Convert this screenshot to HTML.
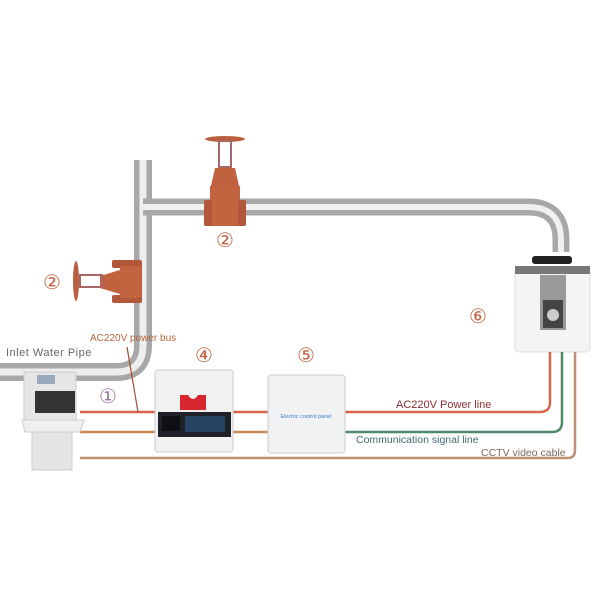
<!DOCTYPE html>
<html><head><style>body{margin:0;background:#fff}svg{display:block}text{font-family:"Liberation Sans",sans-serif}</style></head><body>
<svg width="600" height="600" viewBox="0 0 600 600" xmlns="http://www.w3.org/2000/svg">
<!-- pipes -->
<path d="M143 160 V345 Q143 372 116 372 H0" fill="none" stroke="#a8a8a8" stroke-width="18"/>
<path d="M143 160 V345 Q143 372 116 372 H0" fill="none" stroke="#eeeeee" stroke-width="7"/>
<path d="M143 207 H528 Q561 207 561 240 V252" fill="none" stroke="#a8a8a8" stroke-width="17"/>
<path d="M143 207 H528 Q561 207 561 240 V252" fill="none" stroke="#f0f0f0" stroke-width="6"/>
<!-- top valve -->
<ellipse cx="225" cy="139" rx="20" ry="3" fill="#b8603f"/>
<rect x="219" y="141" width="12" height="26" fill="none" stroke="#a66" stroke-width="2"/>
<path d="M215 168 h20 l4 18 h-28z" fill="#c0623e"/>
<rect x="210" y="186" width="30" height="40" fill="#c2643f"/>
<rect x="204" y="200" width="8" height="26" rx="2" fill="#b2573a"/>
<rect x="238" y="200" width="8" height="26" rx="2" fill="#b2573a"/>
<!-- left valve -->
<rect x="112" y="260" width="30" height="8" rx="2" fill="#b2573a"/>
<rect x="112" y="295" width="30" height="8" rx="2" fill="#b2573a"/>
<rect x="120" y="266" width="22" height="32" fill="#c2643f"/>
<path d="M120 270 L100 276 V288 L120 294z" fill="#c0623e"/>
<rect x="80" y="275" width="22" height="12" fill="none" stroke="#a66" stroke-width="2"/>
<ellipse cx="76" cy="281" rx="3" ry="20" fill="#b8603f"/>
<text x="225" y="247" font-size="20" fill="#c0623e" text-anchor="middle">②</text>
<text x="52" y="289" font-size="20" fill="#c0623e" text-anchor="middle">②</text>
<!-- camera -->
<rect x="532" y="256" width="40" height="8" rx="3" fill="#222"/>
<rect x="515" y="270" width="75" height="82" rx="4" fill="#f4f4f4" stroke="#ddd"/>
<rect x="515" y="266" width="75" height="8" fill="#777"/>
<rect x="540" y="275" width="26" height="55" fill="#999"/>
<rect x="543" y="300" width="20" height="28" fill="#444"/>
<circle cx="553" cy="315" r="6" fill="#ccc"/>
<text x="478" y="323" font-size="20" fill="#c0623e" text-anchor="middle">⑥</text>
<!-- lines -->
<g fill="none" stroke-width="2.5">
<path d="M80 412 H540 Q550 412 550 402 V352" stroke="#d8644a"/>
<path d="M80 432 H268" stroke="#c98a5a"/>
<path d="M345 432 H552 Q562 432 562 422 V352" stroke="#4f8a6a"/>
<path d="M80 458 H568 Q575 458 575 450 V352" stroke="#c09075"/>
<path d="M127 347 L138 412" stroke="#a0502e" stroke-width="1.2"/>
</g>
<!-- console -->
<rect x="24" y="372" width="52" height="50" fill="#e6e6e6" stroke="#ccc"/>
<rect x="37" y="375" width="18" height="9" fill="#9ab"/>
<rect x="35" y="391" width="40" height="22" fill="#333"/>
<path d="M22 420 H84 L80 432 H25z" fill="#f0f0f0" stroke="#ccc"/>
<rect x="32" y="432" width="40" height="38" fill="#e4e4e4" stroke="#ccc"/>
<!-- box 4 -->
<rect x="155" y="370" width="78" height="82" rx="3" fill="#f1f1f1" stroke="#ccc"/>
<path d="M180 395 h26 v15 h-26z M188 395 q5 8 10 0" fill="#d8262e"/>
<rect x="158" y="412" width="73" height="25" fill="#1e2228"/>
<rect x="162" y="416" width="18" height="15" fill="#0e1014"/>
<rect x="185" y="416" width="40" height="16" fill="#2a5a8a" opacity=".6"/>
<text x="204" y="362" font-size="20" fill="#c0623e" text-anchor="middle">④</text>
<!-- box 5 -->
<rect x="268" y="375" width="77" height="78" rx="3" fill="#f1f2f4" stroke="#ccc"/>
<text x="306" y="418" font-size="5.5" fill="#3a7fd0" text-anchor="middle">Electric control panel</text>
<text x="306" y="362" font-size="20" fill="#c0623e" text-anchor="middle">⑤</text>
<text x="108" y="403" font-size="20" fill="#9a7aa0" text-anchor="middle">①</text>
<!-- labels -->
<text x="90" y="341" font-size="10" fill="#b5663d">AC220V power bus</text>
<text x="6" y="356" font-size="11" fill="#666" letter-spacing="0.5">Inlet Water Pipe</text>
<text x="396" y="408" font-size="11" fill="#8a3030">AC220V Power line</text>
<text x="356" y="443" font-size="10.5" fill="#3a6f70">Communication signal line</text>
<text x="481" y="456" font-size="10.5" fill="#7a6a5a">CCTV video cable</text>
</svg>
</body></html>
